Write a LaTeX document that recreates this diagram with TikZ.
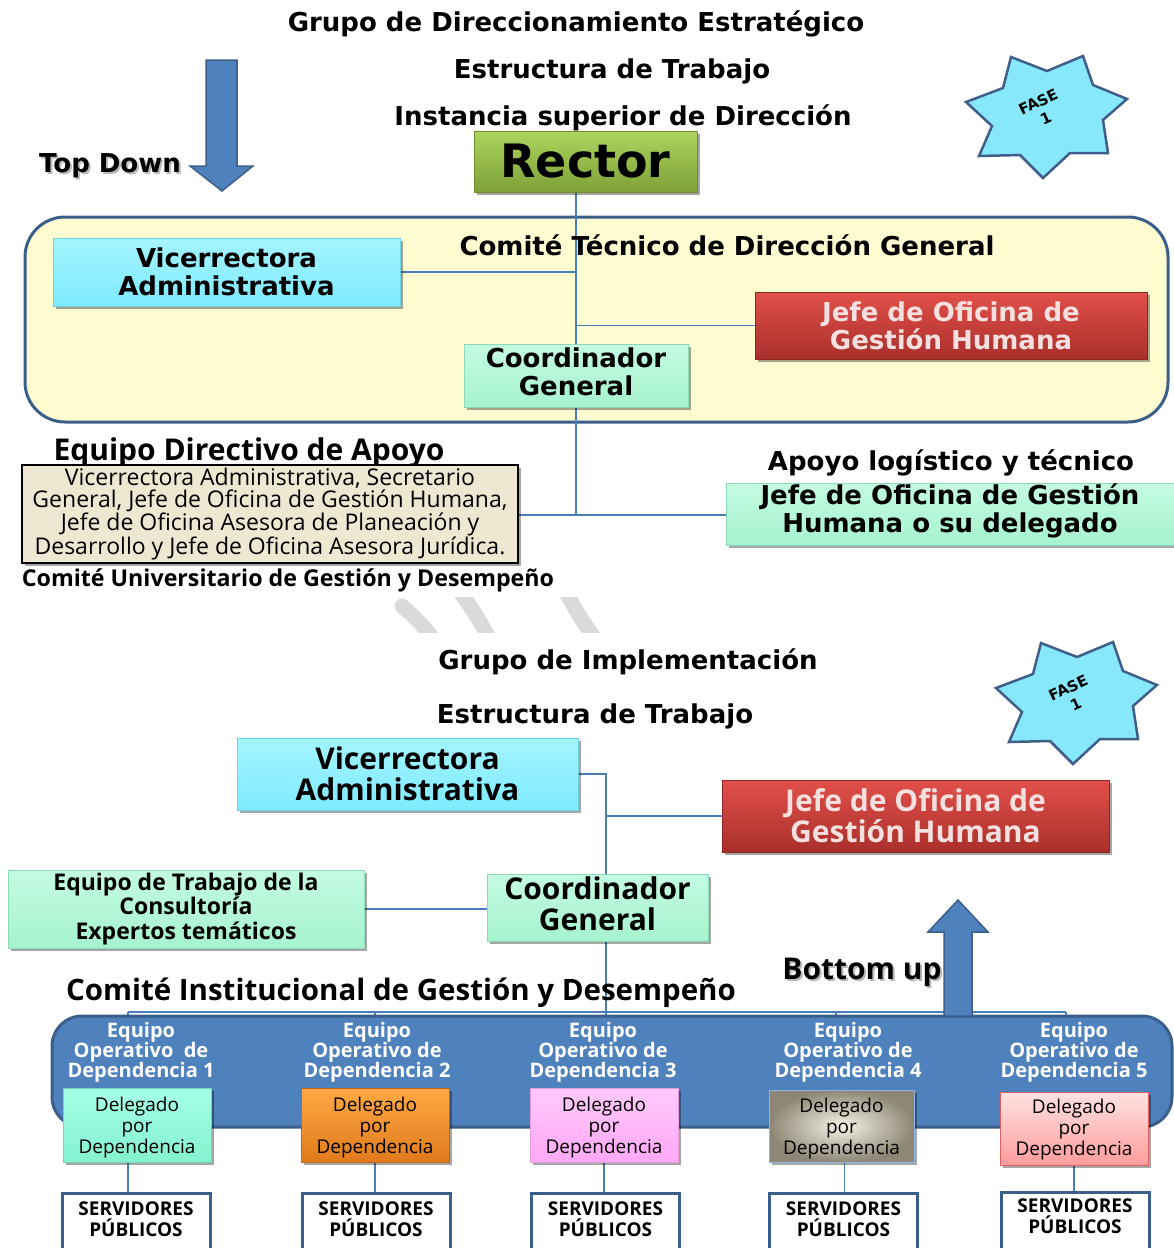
\documentclass[tikz,border=0pt]{standalone}
\usepackage{fontspec}
\setmainfont{Open Sans}
\newfontfamily\dejavu{DejaVu Sans}
\usetikzlibrary{shadows}
\pgfdeclarelayer{panel}
\pgfdeclarelayer{wires}
\pgfsetlayers{panel,wires,main}
\newcommand\fsz[2]{\fontsize{#1}{#2}\selectfont}

\definecolor{wireblue}{HTML}{4A7EBB}
\definecolor{bandblue}{HTML}{4F81BD}
\definecolor{banddark}{HTML}{3A5F8B}
\definecolor{paneltone}{HTML}{FFFCD2}
\definecolor{cyantop}{HTML}{A4F5FF}
\definecolor{cyanbot}{HTML}{7EEAFF}
\definecolor{cyanedge}{HTML}{6FD0E6}
\definecolor{minttop}{HTML}{C4FBE2}
\definecolor{mintbot}{HTML}{A6F3CF}
\definecolor{mintedge}{HTML}{8CD9B5}
\definecolor{redtop}{HTML}{E2504B}
\definecolor{redbot}{HTML}{A92F2B}
\definecolor{rededge}{HTML}{8E2724}
\definecolor{redtext}{HTML}{F6E0DF}
\definecolor{greentop}{HTML}{ADD45E}
\definecolor{greenbot}{HTML}{7DA137}
\definecolor{greenedge}{HTML}{6E8E30}
\definecolor{beige}{HTML}{EEE8D3}
\definecolor{starfill}{HTML}{88E8FB}
\definecolor{staredge}{HTML}{3F5E8A}
\definecolor{arcgrey}{HTML}{DADADA}
\definecolor{aquatop}{HTML}{A6FFE6}
\definecolor{aquabot}{HTML}{84F2D0}
\definecolor{aquaedge}{HTML}{6CD9B8}
\definecolor{ortop}{HTML}{FFAA45}
\definecolor{orbot}{HTML}{E07A1C}
\definecolor{oredge}{HTML}{C0651A}
\definecolor{pktop}{HTML}{FFC9FC}
\definecolor{pkbot}{HTML}{FFA8F5}
\definecolor{pkedge}{HTML}{E69AE0}
\definecolor{khin}{HTML}{F6F4E6}
\definecolor{khout}{HTML}{8E8775}
\definecolor{khedge}{HTML}{8DB4E2}
\definecolor{rstop}{HTML}{FFE2E2}
\definecolor{rsbot}{HTML}{FF9C9C}
\definecolor{rsedge}{HTML}{E06060}

\tikzset{
  wire/.style={draw=wireblue, line width=1.1pt},
  hd/.style={inner sep=0pt, font=\dejavu\bfseries\fsz{26}{28}},
  hdo/.style={inner sep=0pt, font=\bfseries\fsz{30}{32}},
  boxbase/.style={rectangle, align=center, inner sep=0pt, line width=0.8pt,
    drop shadow={shadow xshift=2.5pt, shadow yshift=-2.5pt, opacity=.35, fill=black}},
  cyanbox/.style={boxbase, draw=cyanedge, top color=cyantop, bottom color=cyanbot},
  mintbox/.style={boxbase, draw=mintedge, top color=minttop, bottom color=mintbot},
  redbox/.style={boxbase, draw=rededge, top color=redtop, bottom color=redbot, text=redtext},
  greenbox/.style={boxbase, draw=greenedge, top color=greentop, bottom color=greenbot},
  topfont/.style={font=\dejavu\bfseries\fsz{26}{28}},
  lowfont/.style={font=\bfseries\fsz{30}{31}},
  bigarrow/.style={fill=bandblue, draw=banddark, line width=1.5pt, line join=miter},
  deleg/.style={boxbase, minimum width=148pt, minimum height=74pt, font=\fsz{19}{21},
    text depth=-3pt},
  eqlabel/.style={inner sep=0pt, align=center, text=white, font=\bfseries\fsz{20}{20}},
  servbox/.style={rectangle, draw=banddark, line width=3pt, fill=white, anchor=north,
    minimum width=148pt, minimum height=66pt},
  servtext/.style={anchor=north, yshift=-10pt, inner sep=0pt, align=center,
    font=\bfseries\fsz{19}{21}},
  fase/.pic={
    \draw[fill=starfill, draw=staredge, line width=2.5pt, line join=miter]
      (-36,-60) -- (0,-46) -- (36,-61) -- (46,-32) -- (80,-18) -- (56,3) --
      (61,36) -- (23,36) -- (-4,61) -- (-27,38) -- (-68,39) -- (-55,9) --
      (-81,-15) -- (-44,-29) -- cycle;
    \node[rotate=25, align=center, inner sep=0pt,
      font=\dejavu\bfseries\fsz{15}{18}] (label) at (-5,-7) {FASE\\1};
  }
}

\begin{document}
\begin{tikzpicture}[x=1pt,y=-1pt]
\useasboundingbox (0,0) rectangle (1174,1248);

% ---------- upper structure ----------
\node[hd] (g1) at (576,24) {Grupo de Direccionamiento Estratégico};
\node[hd] (g2) at (612,71) {Estructura de Trabajo};
\node[hd] (g3) at (623,118) {Instancia superior de Dirección};

\draw[bigarrow] (206,60) -- (237,60) -- (237,166) -- (253,166) -- (222,191)
  -- (190,166) -- (206,166) -- cycle;
\node[hd, text=black!45, opacity=.6] (tdshade) at (112,168) {Top Down};
\node[hd] (td) at (110,166) {Top Down};

\pic (star1) at (1047,117) {fase};

\node[greenbox, minimum width=223pt, minimum height=61pt,
  font=\dejavu\bfseries\fsz{46}{48}] (rector) at (585.5,161.5) {Rector};

\begin{pgfonlayer}{panel}
  \draw[line width=3pt, draw=banddark, fill=paneltone, rounded corners=40pt]
    (25,217) rectangle (1168,422);
\end{pgfonlayer}

\node[hd] (ctdg) at (727,245) {Comité Técnico de Dirección General};

\node[cyanbox, topfont, minimum width=347pt, minimum height=68pt]
  (vic1) at (226.5,272) {Vicerrectora\\Administrativa};
\node[redbox, topfont, minimum width=392pt, minimum height=67pt]
  (jefe1) at (951,325.5) {Jefe de Oficina de\\Gestión Humana};
\node[mintbox, topfont, minimum width=224pt, minimum height=63pt, text depth=8pt]
  (coord1) at (576,375.5) {Coordinador\\General};

\node[inner sep=0pt, font=\bfseries\fsz{30}{32}] (edatitle) at (249,453) {Equipo Directivo de Apoyo};
\node[boxbase, draw=black, line width=2.5pt, fill=beige,
  minimum width=496pt, minimum height=98pt, font=\fsz{23}{22.7}]
  (eda) at (270,514) {Vicerrectora Administrativa, Secretario\\
  General, Jefe de Oficina de Gestión Humana,\\
  Jefe de Oficina Asesora de Planeación y\\
  Desarrollo y Jefe de Oficina Asesora Jurídica.};
\node[inner sep=0pt, font=\bfseries\fsz{23.2}{26}] (cugd) at (288,580)
  {Comité Universitario de Gestión y Desempeño};

\node[hd] (alt) at (951,463) {Apoyo logístico y técnico};
\node[mintbox, topfont, minimum width=448pt, minimum height=62pt, text depth=12pt]
  (apoyo) at (950,514) {Jefe de Oficina de Gestión\\Humana o su delegado};

\coordinate (j1) at (576,515);
\begin{pgfonlayer}{wires}
  \draw[wire] (rector.south -| j1) -- (j1);
  \draw[wire] (vic1.east) -- (vic1.east -| j1);
  \draw[wire] (jefe1.west) -- (jefe1.west -| j1);
  \draw[wire] (eda.east |- j1) -- (apoyo.west |- j1);
\end{pgfonlayer}

% faint ring fragments
\begin{pgfonlayer}{panel}
  \begin{scope}
    \clip (380,597) rectangle (620,632);
    \draw[arcgrey, line width=15pt, line cap=round] (402,606) to[bend left=6] (434,640);
    \draw[arcgrey, line width=15pt, line cap=round] (460,592) to[bend left=4] (490,640);
    \draw[arcgrey, line width=15pt, line cap=round] (566,592) to[bend right=4] (596,640);
  \end{scope}
\end{pgfonlayer}

% ---------- lower structure ----------
\node[hd] (g4) at (628,662) {Grupo de Implementación};
\node[hd] (g5) at (595,716) {Estructura de Trabajo};

\pic (star2) at (1077,703) {fase};

\node[cyanbox, lowfont, minimum width=341pt, minimum height=72pt]
  (vic2) at (407.5,774) {Vicerrectora\\Administrativa};
\node[redbox, lowfont, minimum width=387pt, minimum height=72pt]
  (jefe2) at (915.5,816) {Jefe de Oficina de\\Gestión Humana};
\node[mintbox, lowfont, minimum width=221pt, minimum height=67pt, text depth=8pt]
  (coord2) at (597.5,907.5) {Coordinador\\General};
\node[mintbox, font=\bfseries\fsz{23}{24.5}, minimum width=356pt, minimum height=78pt]
  (etc) at (186,909) {Equipo de Trabajo de la\\Consultoría\\Expertos temáticos};

\node[inner sep=0pt, font=\bfseries\fsz{29.5}{32}] (cigd) at (401,993)
  {Comité Institucional de Gestión y Desempeño};

\node[rectangle, draw=banddark, line width=3pt, fill=bandblue, rounded corners=30pt,
  minimum width=1120pt, minimum height=111pt] (band) at (612,1071.5) {};

\node[eqlabel] (e1) at (141,1052) {Equipo\\Operativo\ \ de\\Dependencia 1};
\node[eqlabel] (e2) at (377,1052) {Equipo\\Operativo de\\Dependencia 2};
\node[eqlabel] (e3) at (603,1052) {Equipo\\Operativo de\\Dependencia 3};
\node[eqlabel] (e4) at (848,1052) {Equipo\\Operativo de\\Dependencia 4};
\node[eqlabel] (e5) at (1074,1052) {Equipo\\Operativo de\\Dependencia 5};

\node[deleg, draw=aquaedge, top color=aquatop, bottom color=aquabot]
  (d1) at (137,1125) {Delegado\\por\\Dependencia};
\node[deleg, draw=oredge, top color=ortop, bottom color=orbot]
  (d2) at (375,1125) {Delegado\\por\\Dependencia};
\node[deleg, draw=pkedge, top color=pktop, bottom color=pkbot]
  (d3) at (604,1125) {Delegado\\por\\Dependencia};
\node[deleg, draw=khedge, inner color=khin, outer color=khout, minimum width=145pt,
  minimum height=72pt] (d4) at (841.5,1126) {Delegado\\por\\Dependencia};
\node[deleg, draw=rsedge, top color=rstop, bottom color=rsbot, minimum height=73pt,
  text depth=2pt] (d5) at (1074,1128.5) {Delegado\\por\\Dependencia};

\node[servbox] (s1) at (136,1192) {};
\node[servbox] (s2) at (376,1192) {};
\node[servbox] (s3) at (605.5,1192) {};
\node[servbox] (s4) at (843.5,1192) {};
\node[servbox] (s5) at (1075,1191) {};
\node[servtext] (t1) at (s1.north) {SERVIDORES\\PÚBLICOS};
\node[servtext] (t2) at (s2.north) {SERVIDORES\\PÚBLICOS};
\node[servtext] (t3) at (s3.north) {SERVIDORES\\PÚBLICOS};
\node[servtext] (t4) at (s4.north) {SERVIDORES\\PÚBLICOS};
\node[servtext, yshift=2pt] (t5) at (s5.north) {SERVIDORES\\PÚBLICOS};

\coordinate (b1) at (128,1012);
\coordinate (b2) at (375,1012);
\coordinate (b3) at (606,1012);
\coordinate (b4) at (836,1012);
\coordinate (b5) at (1066,1012);

\begin{pgfonlayer}{wires}
  \draw[wire] (vic2.east) -| (b3);
  \draw[wire] (jefe2.west) -- (jefe2.west -| b3);
  \draw[wire] (etc.east) -- (etc.east -| coord2.west);
  \draw[wire] (b1) -- (b5);
  \foreach \k in {1,...,5} { \draw[wire] (b\k) -- (b\k |- band.north); }
  \draw[wire] ([xshift=-9pt]d1.south) -- ([xshift=-9pt]d1.south |- s1.north);
  \draw[wire] (d2.south) -- (d2.south |- s2.north);
  \draw[wire] (d3.south) -- (d3.south |- s3.north);
  \draw[wire] ([xshift=3pt]d4.south) -- ([xshift=3pt]d4.south |- s4.north);
  \draw[wire] (d5.south) -- (d5.south |- s5.north);
\end{pgfonlayer}

\draw[bigarrow] (944,1016) -- (972,1016) -- (972,932) -- (988,932) -- (958,900)
  -- (928,932) -- (944,932) -- cycle;
\node[hdo, text=black!45, opacity=.6] (bushade) at (864,974) {Bottom up};
\node[hdo] (bu) at (862,972) {Bottom up};

\end{tikzpicture}
\end{document}
